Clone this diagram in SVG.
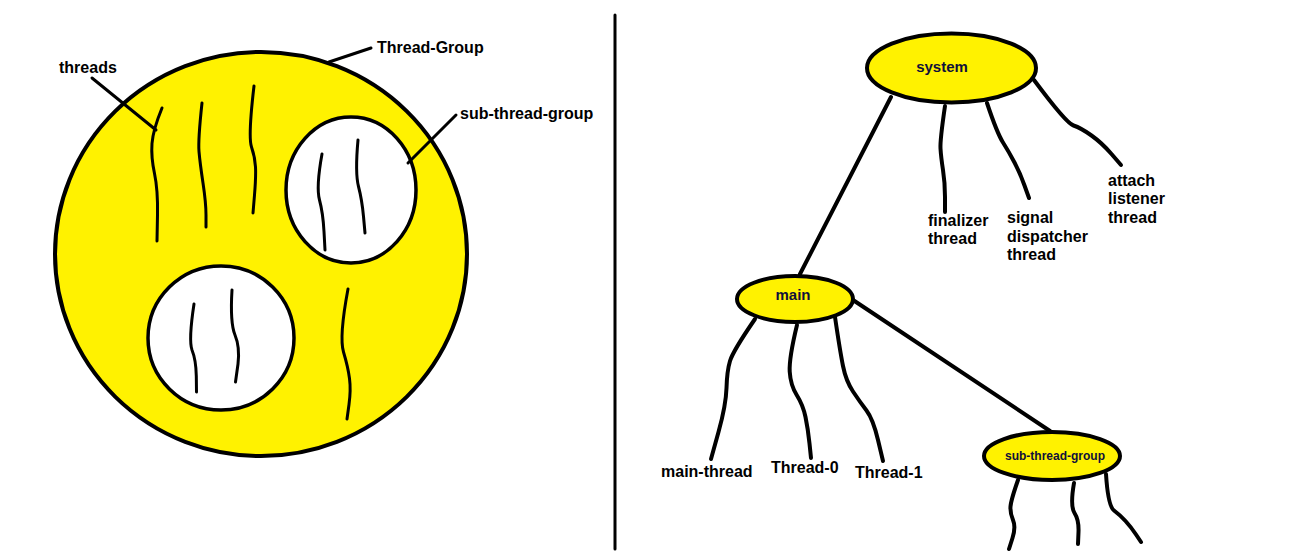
<svg xmlns="http://www.w3.org/2000/svg" width="1316" height="559" viewBox="0 0 1316 559">
<style>
  .yel { fill: #FFF200; stroke: #000; stroke-width: 4; }
  .wht { fill: #FFFFFF; stroke: #000; stroke-width: 3.5; }
  .ln { fill: none; stroke: #000; stroke-width: 3; stroke-linecap: round; stroke-linejoin: round; }
  .ln4 { fill: none; stroke: #000; stroke-width: 4; stroke-linecap: round; stroke-linejoin: round; }
  .t { font-family: "Liberation Sans", Arial, sans-serif; font-weight: bold; font-size: 16px; fill: #000; }
  .tn { font-family: "Liberation Sans", Arial, sans-serif; font-weight: bold; font-size: 15px; fill: #10103a; text-anchor: middle; }
  .ts { font-family: "Liberation Sans", Arial, sans-serif; font-weight: bold; font-size: 12px; fill: #10103a; text-anchor: middle; }
</style>
<rect width="1316" height="559" fill="#FFFFFF"/>

<!-- Left: Thread-Group picture -->
<g id="thread-group">
  <ellipse class="yel" cx="261" cy="254" rx="206" ry="202"/>
  <path class="ln" d="M162,108 Q153,130 152,143.5 Q151,157 154.5,173.5 Q158,190 157.5,215 L157,241"/>
  <path class="ln" d="M202,103 Q198,140 199,151.5 Q200,163 203,183 Q206,203 206,215 L206,227"/>
  <path class="ln" d="M254,86 Q248,137 251.5,147 Q255,157 255.5,167 Q256,177 254.5,195 L253,213"/>
  <path class="ln" d="M348,289 Q339,337 343.5,352 Q348,367 349.5,378.5 Q351,390 349,404.5 L347,419"/>
</g>
<g id="sub-group-upper">
  <ellipse class="wht" cx="351" cy="190" rx="65" ry="73"/>
  <path class="ln" d="M322,154 Q316,187 319.5,200 Q323,213 324,231.5 L325,250"/>
  <path class="ln" d="M358,140 Q355,173 358.5,186.5 Q362,200 363.5,216.5 L365,233"/>
</g>
<g id="sub-group-lower">
  <ellipse class="wht" cx="221" cy="338" rx="73" ry="72"/>
  <path class="ln" d="M194,304 Q188.5,340 192,350 Q196,360 196.3,376 L196.5,392"/>
  <path class="ln" d="M232,290 Q230,323 235,335 Q240,347 238,364 L235.5,382"/>
</g>
<g id="left-labels">
  <line class="ln" x1="92" y1="78" x2="156" y2="130"/>
  <line class="ln" x1="371" y1="48" x2="329" y2="62"/>
  <line class="ln" x1="456" y1="115" x2="408" y2="163"/>
  <text class="t" x="59" y="73">threads</text>
  <text class="t" x="377" y="53">Thread-Group</text>
  <text class="t" x="460" y="119">sub-thread-group</text>
</g>

<line class="ln" x1="615" y1="15" x2="615" y2="549"/>

<!-- Right: tree -->
<g id="connectors">
  <line class="ln4" x1="891" y1="97" x2="800" y2="274"/>
  <path class="ln4" d="M945,106 Q940,140 940.5,148.5 Q941,157 943,170 Q945,183 945,197 L945,212"/>
  <path class="ln4" d="M987,103 Q997,133 1003,142.5 Q1009,152 1014.5,162.5 Q1020,173 1024.5,185.5 L1029,198"/>
  <path class="ln4" d="M1034,80 Q1066,123 1073.5,125.5 Q1081,128 1091.5,135.5 Q1102,143 1111.5,154 L1121,165"/>
  <line class="ln4" x1="853" y1="300" x2="1050" y2="431"/>
  <path class="ln4" d="M755,319 Q733,351 730,361 Q727,371 726.5,388 Q726,405 718.5,432 L711,459"/>
  <path class="ln4" d="M797,325 Q789,358 789.7,371.5 Q790.5,385 796.7,395 Q803,405 805.5,417 Q808,429 809.5,443.5 L811,458"/>
  <path class="ln4" d="M835,317 Q840,351 843,366 Q846,381 853,391.5 Q860,402 866.5,410.5 Q873,419 878,440 L883,461"/>
  <path class="ln4" d="M1018,480 Q1011,500 1010.5,506.5 Q1010,513 1013,520 Q1016,527 1012.5,538 L1009,549"/>
  <path class="ln4" d="M1074,483 Q1070,506 1074.5,513 Q1079,520 1078.5,532 L1078,544"/>
  <path class="ln4" d="M1106,474 Q1108,506 1114,510.5 Q1120,515 1125.5,521 Q1131,527 1136,534.5 L1141,542"/>
</g>

<g id="node-system">
  <ellipse class="yel" cx="951.5" cy="68" rx="84.5" ry="34.5"/>
  <text class="tn" x="942" y="72">system</text>
</g>
<g id="node-main">
  <ellipse class="yel" cx="795" cy="299" rx="58" ry="23"/>
  <text class="tn" x="793" y="300">main</text>
</g>
<g id="node-sub-thread-group">
  <ellipse class="yel" cx="1052" cy="456" rx="68" ry="24"/>
  <text class="ts" x="1055" y="460">sub-thread-group</text>
</g>

<g id="leaf-finalizer">
  <text class="t" x="928" y="226">finalizer</text>
  <text class="t" x="928" y="244">thread</text>
</g>
<g id="leaf-signal">
  <text class="t" x="1007" y="223">signal</text>
  <text class="t" x="1007" y="242">dispatcher</text>
  <text class="t" x="1007" y="260">thread</text>
</g>
<g id="leaf-attach">
  <text class="t" x="1108" y="186">attach</text>
  <text class="t" x="1108" y="204">listener</text>
  <text class="t" x="1108" y="223">thread</text>
</g>
<g id="leaf-main-thread">
  <text class="t" x="661" y="477">main-thread</text>
</g>
<g id="leaf-thread-0">
  <text class="t" x="771" y="473">Thread-0</text>
</g>
<g id="leaf-thread-1">
  <text class="t" x="855" y="478">Thread-1</text>
</g>
</svg>
